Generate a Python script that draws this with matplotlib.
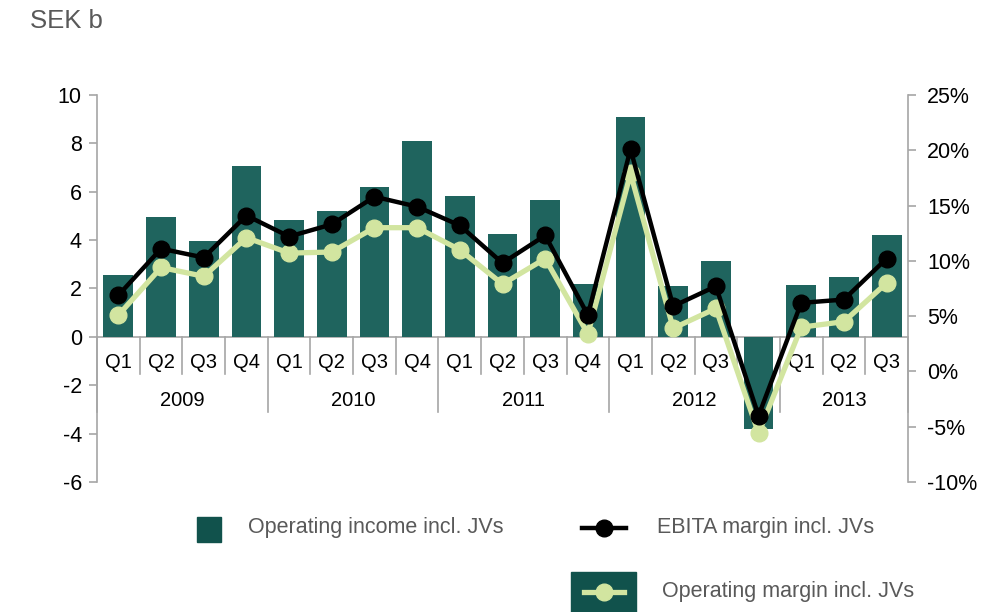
import matplotlib
matplotlib.use("Agg")
import matplotlib.pyplot as plt
from matplotlib.patches import Rectangle
from matplotlib.lines import Line2D

# data
quarters = ["Q1", "Q2", "Q3", "Q4"] * 4 + ["Q1", "Q2", "Q3"]
years = ["2009", "2010", "2011", "2012", "2013"]
operating_income = [2.55, 4.95, 3.98, 7.07, 4.83, 5.19, 6.21, 8.09, 5.84, 4.27,
                    5.66, 2.19, 9.09, 2.11, 3.13, -3.8, 2.14, 2.48, 4.23]
ebita_margin = [6.9, 11.1, 10.3, 14.1, 12.2, 13.3, 15.8, 14.9, 13.2, 9.8,
                12.3, 5.1, 20.1, 5.9, 7.7, -4.0, 6.2, 6.5, 10.2]
operating_margin = [5.1, 9.4, 8.6, 12.1, 10.7, 10.8, 13.0, 13.0, 11.0, 7.9,
                    10.2, 3.4, 17.9, 3.9, 5.7, -5.6, 4.0, 4.5, 8.0]
left_ticks = [10, 8, 6, 4, 2, 0, -2, -4, -6]
right_ticks = [25, 20, 15, 10, 5, 0, -5, -10]

bar_col = "#1f645e"
green = "#d2e5a0"
grey = "#a6a6a6"
txt_grey = "#595959"

plt.rcParams["font.family"] = ["Liberation Sans", "DejaVu Sans"]

fig = plt.figure(figsize=(10.01, 6.12), dpi=100)
ax = fig.add_axes([0.097, 0.2124, 0.81, 0.6324])
x = list(range(len(operating_income)))

ax.bar(x, operating_income, width=0.7, color=bar_col, zorder=3)
ax.axhline(0, color=grey, lw=1.2, zorder=2)
ax.set_xlim(-0.5, len(x) - 0.5)
ax.set_ylim(-6, 10)
ax.set_yticks(left_ticks)
ax.set_yticklabels([str(v) for v in left_ticks])
ax.set_xticks([])
for s in ["top", "bottom", "right"]:
    ax.spines[s].set_visible(False)
ax.spines["left"].set_color(grey)
ax.spines["left"].set_linewidth(1.2)
ax.tick_params(axis="y", colors=grey, labelcolor="black", labelsize=15.5,
               length=6, width=1.2, pad=5)

# category labels under the zero line
for i, q in enumerate(quarters):
    ax.text(i, -1.05, q, ha="center", va="center", fontsize=14.5, zorder=1)
for i in range(len(x) + 1):
    is_year = i % 4 == 0 or i == len(x)
    ax.plot([i - 0.5, i - 0.5], [0, -3.1 if is_year else -1.55],
            color=grey, lw=1.2, zorder=1, clip_on=False)
for k, yr in enumerate(years):
    start = 4 * k
    end = min(4 * k + 3, len(x) - 1)
    ax.text((start + end) / 2, -2.62, yr, ha="center", va="center",
            fontsize=14.5, zorder=1)

ax2 = ax.twinx()
ax2.plot(x, operating_margin, color=green, lw=3.8, marker="o",
         markersize=12, zorder=3)
ax2.plot(x, ebita_margin, color="black", lw=3.2, marker="o",
         markersize=12, zorder=4)
ax2.set_ylim(-10, 25)
ax2.set_yticks(right_ticks)
ax2.set_yticklabels([f"{v}%" for v in right_ticks])
for s in ["top", "bottom", "left"]:
    ax2.spines[s].set_visible(False)
ax2.spines["right"].set_color(grey)
ax2.spines["right"].set_linewidth(1.2)
ax2.tick_params(axis="y", colors=grey, labelcolor="black", labelsize=15.5,
                length=6, width=1.2, pad=8)

fig.text(0.03, 1 - 21 / 612, "SEK b", fontsize=18.5, color=txt_grey, va="center")

# legend drawn by hand
fig.patches.append(Rectangle((197 / 1001, 1 - 542 / 612), 24 / 1001, 25 / 612,
                             transform=fig.transFigure, color="#11524c"))
fig.text(248 / 1001, 1 - 528 / 612, "Operating income incl. JVs", fontsize=15.5,
         color=txt_grey, va="center")
fig.lines.append(Line2D([582 / 1001, 626 / 1001], [1 - 528 / 612] * 2,
                        transform=fig.transFigure, color="black", lw=3.2))
fig.lines.append(Line2D([604 / 1001], [1 - 528 / 612], transform=fig.transFigure,
                        color="black", marker="o", markersize=12))
fig.text(657 / 1001, 1 - 528 / 612, "EBITA margin incl. JVs", fontsize=15.5,
         color=txt_grey, va="center")
fig.patches.append(Rectangle((571 / 1001, 0), 65 / 1001, 40 / 612,
                             transform=fig.transFigure, color="#11524c"))
fig.lines.append(Line2D([584 / 1001, 624 / 1001], [1 - 592 / 612] * 2,
                        transform=fig.transFigure, color=green, lw=3.8))
fig.lines.append(Line2D([604 / 1001], [1 - 592 / 612], transform=fig.transFigure,
                        color=green, marker="o", markersize=12))
fig.text(662 / 1001, 1 - 592 / 612, "Operating margin incl. JVs", fontsize=15.5,
         color=txt_grey, va="center")

fig.savefig("out.png", dpi=100)
